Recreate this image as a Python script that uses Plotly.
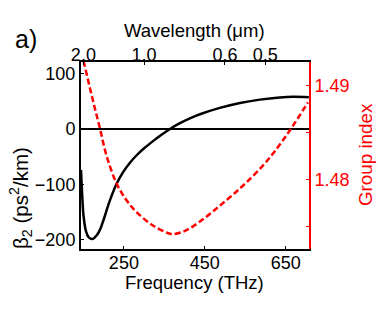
import plotly.graph_objects as go

# beta2 curve (black): frequency (THz) vs beta2 (ps^2/km)
beta_freq = [144, 147, 150, 156, 163, 173, 183, 191, 199, 215, 232, 248, 265, 281, 300, 322, 343, 364, 385, 413, 438, 487, 537, 586, 635, 668, 707]
beta_vals = [-74, -120, -155, -184, -196, -199, -192, -182, -166, -130, -99, -78, -61, -48, -35, -22, -10.5, 0, 9, 19, 26.5, 38, 47, 53, 57, 58.3, 57.5]

# group index curve (red dashed)
ng_freq = [144, 151, 165, 178, 191, 207, 232, 257, 282, 322, 364, 372, 397, 420, 446, 470, 495, 525, 553, 594, 623, 660, 705]
ng_vals = [1.4935, 1.49245, 1.4899, 1.4876, 1.4854, 1.48255, 1.47957, 1.47777, 1.47652, 1.47511, 1.47424, 1.4742, 1.47447, 1.4750, 1.4758, 1.4766, 1.4775, 1.4786, 1.4797, 1.4815, 1.4830, 1.4852, 1.4882]

# top axis (wavelength) ticks
wl_labels = ["2.0", "1.0", "0.6", "0.5"]
wl_um = [2.0, 1.0, 0.6, 0.5]
wl_freq = [299.792458 / w for w in wl_um]

# right axis ticks
ng_ticks = [1.48, 1.49]
ng_minor = [1.475, 1.485]

x_range = [144, 707.5]
font = "Liberation Sans, Arial, sans-serif"

W, H = 382, 313
ML, MR, MT, MB = 81, 73, 62, 64
PW, PH = W - ML - MR, H - MT - MB


def px(x):
    return (x - ML) / PW


def py(y):
    return (H - MB - y) / PH


fig = go.Figure()
fig.add_trace(go.Scatter(x=beta_freq, y=beta_vals, mode="lines", line=dict(color="black", width=2.5, shape="spline"),
                         xaxis="x", yaxis="y", showlegend=False))
fig.add_trace(go.Scatter(x=ng_freq, y=ng_vals, mode="lines", line=dict(color="red", width=2.5, dash="6px,3px", shape="spline"),
                         xaxis="x", yaxis="y2", showlegend=False))
fig.add_trace(go.Scatter(x=x_range, y=[0, 0], mode="lines", line=dict(width=0), opacity=0,
                         xaxis="x2", yaxis="y", showlegend=False, hoverinfo="skip"))

common = dict(ticks="inside", ticklen=3, showgrid=False, showline=True, linewidth=2, automargin=False)

fig.update_layout(
    width=W, height=H,
    margin=dict(l=ML, r=MR, t=MT, b=MB),
    paper_bgcolor="white", plot_bgcolor="white",
    font=dict(family=font, size=18, color="black"),
    xaxis=dict(range=x_range, tickvals=[250, 450, 650], tickcolor="black", linecolor="black",
               zeroline=False, ticklabelstandoff=-4, **common),
    xaxis2=dict(range=x_range, overlaying="x", side="top", tickvals=wl_freq, ticktext=wl_labels,
                tickcolor="black", linecolor="black", zeroline=False, ticklabelstandoff=-8, **common),
    yaxis=dict(range=[-217, 121], tickvals=[-200, -100, 0, 100], ticktext=["\u2212200", "\u2212100", "0", "100"],
               tickcolor="black", linecolor="black",
               zeroline=True, zerolinecolor="black", zerolinewidth=1.5, **common),
    yaxis2=dict(range=[1.47262, 1.49248], overlaying="y", side="right", tickvals=ng_ticks,
                ticktext=["1.48", "1.49"], tickcolor="red", linecolor="red",
                minor=dict(tickvals=ng_minor, ticks="inside", ticklen=3, tickcolor="red", showgrid=False),
                zeroline=False, tickfont=dict(color="red"), **common),
    annotations=[
        dict(text="a)", x=px(26), y=py(39), font=dict(size=25)),
        dict(text="Wavelength (μm)", x=px(194), y=py(30), font=dict(size=18.5)),
        dict(text="Frequency (THz)", x=px(194.5), y=py(282), font=dict(size=18.5)),
        dict(text="β<sub>2</sub> (ps<sup>2</sup>/km)", x=px(20), y=py(198), textangle=-90, font=dict(size=20.5)),
        dict(text="Group index", x=px(365), y=py(155), textangle=-90, font=dict(size=18.8, color="red")),
    ],
)
for a in fig.layout.annotations:
    a.xref = "paper"
    a.yref = "paper"
    a.showarrow = False
    a.xanchor = "center"
    a.yanchor = "middle"

fig.write_html("out.html", post_script="document.body.style.margin='0px';",
               config={"displayModeBar": False})
